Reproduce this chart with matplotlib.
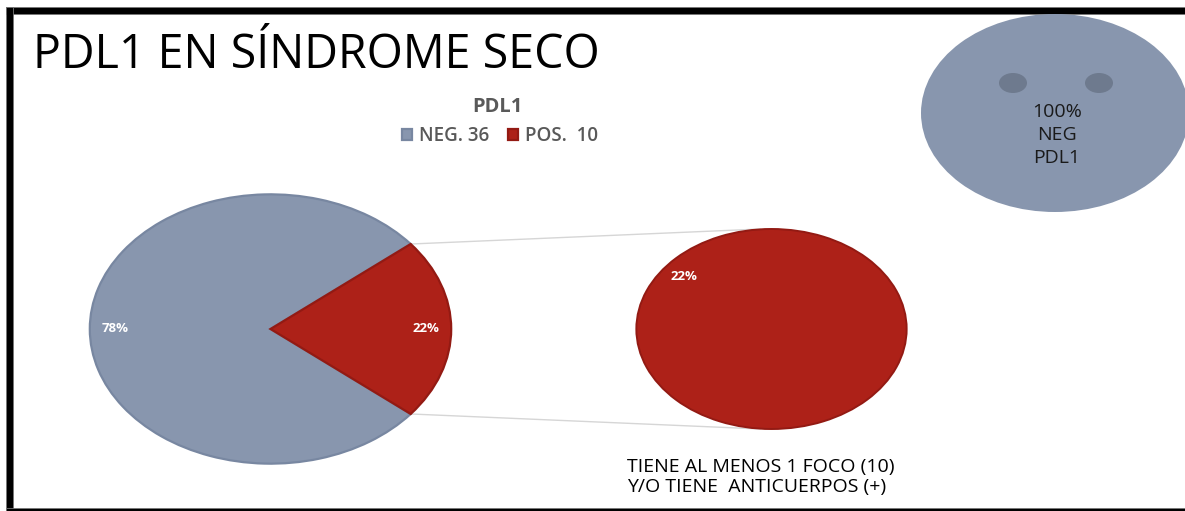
import matplotlib

matplotlib.use("Agg")
import matplotlib.pyplot as plt
import numpy as np
from matplotlib.patches import ConnectionPatch, Ellipse, Rectangle

plt.rcParams["font.family"] = ["Open Sans", "DejaVu Sans"]

# PDL1 results in dry syndrome patients
categories = ["NEG.", "POS."]
counts = [36, 10]
legend_labels = ["NEG. 36", "POS.  10"]
slide_title = "PDL1 EN SÍNDROME SECO"
chart_title = "PDL1"
detail_note = "TIENE AL MENOS 1 FOCO (10)\nY/O TIENE  ANTICUERPOS (+)"
face_note = "100%\nNEG\nPDL1"

GRAY = "#8896AE"
GRAY_EDGE = "#7887A1"
RED = "#AD2118"
RED_EDGE = "#931A13"
TEXT_GRAY = "#595959"

W, H = 1185, 511
fig = plt.figure(figsize=(W / 100, H / 100), dpi=100)


def px_axes(x0, y0, x1, y1, **kw):
    """Axes placed with pixel corners measured from the top-left."""
    return fig.add_axes([x0 / W, (H - y1) / H, (x1 - x0) / W, (y1 - y0) / H], **kw)


# slide background layer in pixel coordinates
bg = fig.add_axes([0, 0, 1, 1])
bg.set_xlim(0, W)
bg.set_ylim(H, 0)
bg.axis("off")

for x, y, w, h in [(6, 7, W - 6, 7), (6, 7, 7, H - 7), (6, 508, W - 6, 3)]:
    bg.add_patch(Rectangle((x, y), w, h, facecolor="black", edgecolor="#777777", lw=0.6))

bg.text(33, 55, slide_title, fontsize=33.5, color="black", va="center", ha="left")

# smiley with the negative summary
bg.add_patch(Ellipse((1055, 113), 268, 198, facecolor=GRAY, edgecolor="none"))
for ex in (1013, 1099):
    bg.add_patch(Ellipse((ex, 83), 28, 20, facecolor="#6E7A8E", edgecolor="none"))
bg.text(1057, 135, face_note, fontsize=14, ha="center", va="center",
        color="#1a1a1a", linespacing=1.35)

bg.text(627, 477, detail_note, fontsize=14, ha="left", va="center",
        color="black", linespacing=1.2)

total = sum(counts)
pos_share = counts[1] / total
start = 360 * pos_share / 2

# main pie
ax_main = px_axes(88, 193, 453, 465)
wedges, _, autotexts = ax_main.pie(
    counts,
    colors=[GRAY, RED],
    startangle=start,
    autopct="%1.0f%%",
    pctdistance=0.86,
    radius=1,
    wedgeprops=dict(linewidth=1.6),
    textprops=dict(color="white", fontsize=9.5, fontweight="bold"),
)
wedges[0].set_edgecolor(GRAY_EDGE)
wedges[1].set_edgecolor(RED_EDGE)
ax_main.set_aspect("auto")
ax_main.set_xlim(-1.01, 1.01)
ax_main.set_ylim(-1.01, 1.01)

# breakdown of the positive slice
ax_pos = px_axes(635, 228, 908, 430)
pos_wedges, _, _ = ax_pos.pie(
    [counts[1]],
    colors=[RED],
    startangle=141 - 180,
    autopct=lambda p: f"{pos_share * 100:.0f}%",
    pctdistance=0.83,
    wedgeprops=dict(edgecolor=RED_EDGE, linewidth=1.4),
    textprops=dict(color="white", fontsize=9.5, fontweight="bold"),
)
ax_pos.set_aspect("auto")
ax_pos.set_xlim(-1.01, 1.01)
ax_pos.set_ylim(-1.01, 1.01)

theta = np.deg2rad(360 * pos_share / 2)
for sign in (1, -1):
    con = ConnectionPatch(
        xyA=(np.cos(theta), sign * np.sin(theta)), coordsA=ax_main.transData,
        xyB=(-0.08, sign * 1.0), coordsB=ax_pos.transData,
        color="#D6D6D6", lw=1.0, zorder=0,
    )
    fig.add_artist(con)

fig.text(497 / W, 1 - 107 / H, chart_title, fontsize=14.5, fontweight="bold",
         color=TEXT_GRAY, ha="center", va="center")
fig.legend(
    wedges, legend_labels,
    loc="center", bbox_to_anchor=(500 / W, 1 - 136 / H), ncol=2,
    frameon=False, labelcolor=TEXT_GRAY,
    prop=dict(weight="semibold", size=13.5),
    handlelength=0.55, handleheight=0.55, handletextpad=0.35, columnspacing=1.0,
)

fig.savefig("out.png", dpi=100)
